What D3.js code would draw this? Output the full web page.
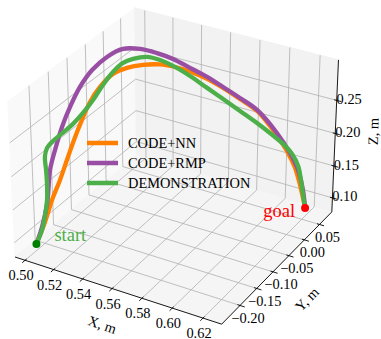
<!DOCTYPE html>
<html>
<head>
<meta charset="utf-8">
<script src="https://cdn.jsdelivr.net/npm/d3@7"></script>
<style>
  body { margin: 0; background: #fff; }
  svg { display: block; }
  text { font-family: "Liberation Serif", "DejaVu Serif", "Times New Roman", serif; fill: #000; }
</style>
</head>
<body>
<div id="app"></div>
<script>
// ---- data (metres) ----
const xTicks = [0.50, 0.52, 0.54, 0.56, 0.58, 0.60, 0.62];
const yTicks = [-0.20, -0.15, -0.10, -0.05, 0.00, 0.05];
const zTicks = [0.10, 0.15, 0.20, 0.25];

const startPt = [0.502, -0.230, 0.093];
const goalPt = [0.620, 0.060, 0.091];

const nnPath = [
  [0.5020, -0.2300, 0.0930], [0.5028, -0.2084, 0.1169], [0.5034, -0.1904, 0.1426],
  [0.5041, -0.1703, 0.1643], [0.5047, -0.1526, 0.1871], [0.5053, -0.1345, 0.2098],
  [0.5060, -0.1144, 0.2316], [0.5067, -0.0942, 0.2504], [0.5076, -0.0695, 0.2630],
  [0.5087, -0.0371, 0.2699], [0.5099, -0.0023, 0.2655], [0.5194, 0.0051, 0.2725],
  [0.5299, 0.0108, 0.2770], [0.5403, 0.0164, 0.2762], [0.5483, 0.0207, 0.2732],
  [0.5587, 0.0263, 0.2658], [0.5685, 0.0316, 0.2558], [0.5788, 0.0372, 0.2431],
  [0.5893, 0.0429, 0.2289], [0.5973, 0.0472, 0.2092], [0.6035, 0.0506, 0.1903],
  [0.6086, 0.0533, 0.1724], [0.6132, 0.0558, 0.1510], [0.6165, 0.0576, 0.1259],
  [0.6186, 0.0587, 0.1064], [0.6200, 0.0600, 0.0910]
];

const rmpPath = [
  [0.5020, -0.2300, 0.0930], [0.5025, -0.2157, 0.1126], [0.5030, -0.2016, 0.1432],
  [0.5033, -0.1924, 0.1891], [0.5038, -0.1795, 0.2137], [0.5044, -0.1617, 0.2405],
  [0.5051, -0.1417, 0.2620], [0.5059, -0.1171, 0.2817], [0.5070, -0.0876, 0.2952],
  [0.5082, -0.0510, 0.3005], [0.5096, -0.0115, 0.2975], [0.5177, 0.0041, 0.2958],
  [0.5281, 0.0098, 0.2933], [0.5379, 0.0151, 0.2881], [0.5483, 0.0207, 0.2786],
  [0.5587, 0.0263, 0.2689], [0.5685, 0.0316, 0.2573], [0.5788, 0.0372, 0.2446],
  [0.5893, 0.0429, 0.2304], [0.6016, 0.0495, 0.2002], [0.6098, 0.0540, 0.1728],
  [0.6150, 0.0568, 0.1487], [0.6184, 0.0586, 0.1189], [0.6200, 0.0600, 0.0910]
];

const demoPath = [
  [0.5020, -0.2300, 0.0930], [0.5025, -0.2159, 0.1080], [0.5028, -0.2076, 0.1274],
  [0.5030, -0.2019, 0.1478], [0.5030, -0.2005, 0.1700], [0.5030, -0.2016, 0.1931],
  [0.5029, -0.2030, 0.2131], [0.5031, -0.1974, 0.2241], [0.5035, -0.1857, 0.2282],
  [0.5042, -0.1666, 0.2306], [0.5052, -0.1383, 0.2339], [0.5061, -0.1116, 0.2409],
  [0.5070, -0.0870, 0.2505], [0.5078, -0.0621, 0.2631], [0.5087, -0.0370, 0.2727],
  [0.5096, -0.0120, 0.2767], [0.5133, 0.0018, 0.2793], [0.5219, 0.0064, 0.2855],
  [0.5299, 0.0108, 0.2837], [0.5391, 0.0157, 0.2766], [0.5483, 0.0207, 0.2664],
  [0.5588, 0.0264, 0.2523], [0.5686, 0.0317, 0.2393], [0.5790, 0.0373, 0.2250],
  [0.5894, 0.0429, 0.2107], [0.5974, 0.0472, 0.1986], [0.6055, 0.0516, 0.1850],
  [0.6111, 0.0546, 0.1718], [0.6150, 0.0568, 0.1548], [0.6170, 0.0578, 0.1339],
  [0.6185, 0.0586, 0.1127], [0.6200, 0.0600, 0.0910]
];

const seriesNames = ['CODE+NN', 'CODE+RMP', 'DEMONSTRATION'];
const seriesColors = ['#ff7f00', '#984ea3', '#4daf4a'];
const seriesPaths = [nnPath, rmpPath, demoPath];

// ---- layout ----
const W = 381, H = 339;
const xLim = [0.4929, 0.6320], yLim = [-0.2535, 0.0917], zLim = [0.0778, 0.3100];
const fontStack = '"Liberation Serif", "DejaVu Serif", "Times New Roman", serif';

// box aspect like matplotlib (4,4,3)
const box = [4, 4, 3].map(v => v * 1.8294640721620434 / Math.sqrt(41));
const xs = d3.scaleLinear().domain(xLim).range([0, box[0]]);
const ys = d3.scaleLinear().domain(yLim).range([0, box[1]]);
const zs = d3.scaleLinear().domain(zLim).range([0, box[2]]);

// camera: elev 30, azim -60, perspective
const elev = 30 * Math.PI / 180, azim = -60 * Math.PI / 180, dist = 10;
const wv = [Math.cos(elev) * Math.cos(azim), Math.cos(elev) * Math.sin(azim), Math.sin(elev)];
const cross = (a, b) => [a[1] * b[2] - a[2] * b[1], a[2] * b[0] - a[0] * b[2], a[0] * b[1] - a[1] * b[0]];
const dot = (a, b) => a[0] * b[0] + a[1] * b[1] + a[2] * b[2];
let uv = cross([0, 0, 1], wv);
const un = Math.hypot(...uv);
uv = uv.map(d => d / un);
const vv = cross(wv, uv);
const R = box.map(b => b / 2);

// projected view -> pixels
const px = d3.scaleLinear().domain([-0.095, 0.09]).range([-20.6, 362.7]);
const py = d3.scaleLinear().domain([-0.095, 0.09]).range([355.6, -27.7]);

function project(p) {
  const d = [xs(p[0]) - R[0], ys(p[1]) - R[1], zs(p[2]) - R[2]];
  const a = dot(uv, d), b = dot(vv, d), c = dot(wv, d) - dist;
  return [px(a / -c), py(b / -c)];
}

const svg = d3.select('#app')
  .append('svg')
  .attr('width', W)
  .attr('height', H);

// panes
const [x0, x1] = xLim, [y0, y1] = yLim, [z0, z1] = zLim;
const panes = [
  { fill: '#f9f9f9', pts: [[x0, y0, z0], [x0, y1, z0], [x0, y1, z1], [x0, y0, z1]] },
  { fill: '#f2f2f2', pts: [[x0, y1, z0], [x1, y1, z0], [x1, y1, z1], [x0, y1, z1]] },
  { fill: '#f5f5f5', pts: [[x0, y0, z0], [x1, y0, z0], [x1, y1, z0], [x0, y1, z0]] }
];
svg.append('g')
  .selectAll('polygon')
  .data(panes)
  .enter()
  .append('polygon')
  .attr('points', d => d.pts.map(project).map(p => p.join(',')).join(' '))
  .attr('fill', d => d.fill)
  .attr('stroke', d => d.fill)
  .attr('stroke-width', 1);

// grid
const line2d = d3.line();
const gridLines = [
  ...xTicks.map(x => [[x, y0, z0], [x, y1, z0], [x, y1, z1]]),
  ...yTicks.map(y => [[x1, y, z0], [x0, y, z0], [x0, y, z1]]),
  ...zTicks.map(z => [[x0, y0, z], [x0, y1, z], [x1, y1, z]])
];
svg.append('g')
  .selectAll('path')
  .data(gridLines)
  .enter()
  .append('path')
  .attr('d', d => line2d(d.map(project)))
  .attr('fill', 'none')
  .attr('stroke', '#b0b0b0')
  .attr('stroke-width', 0.8);

// axis lines
const axisLines = [
  [[x0, y0, z0], [x1, y0, z0]],
  [[x1, y0, z0], [x1, y1, z0]],
  [[x1, y1, z0], [x1, y1, z1]]
];
svg.append('g')
  .selectAll('path')
  .data(axisLines)
  .enter()
  .append('path')
  .attr('d', d => line2d(d.map(project)))
  .attr('stroke', '#000')
  .attr('stroke-width', 0.9);

// tick marks
const xR = x1 - x0, yR = y1 - y0;
const tickIn = 0.012, tickOut = 0.022;
const tickMarks = [
  ...xTicks.map(x => [[x, y0 + tickIn * yR, z0], [x, y0 - tickOut * yR, z0]]),
  ...yTicks.map(y => [[x1 - tickIn * xR, y, z0], [x1 + tickOut * xR, y, z0]]),
  ...zTicks.map(z => [[x1 - tickIn * xR, y1, z], [x1 + tickOut * xR, y1, z]])
];
svg.append('g')
  .selectAll('path')
  .data(tickMarks)
  .enter()
  .append('path')
  .attr('d', d => line2d(d.map(project)))
  .attr('stroke', '#000')
  .attr('stroke-width', 0.9);

// tick labels
const fmt = d3.format('.2f');
const tickLabels = [
  ...xTicks.map(x => ({ p: [x, y0, z0], t: fmt(x), off: [-4, 15] })),
  ...yTicks.map(y => ({ p: [x1, y, z0], t: fmt(y), off: [8, 12.5] })),
  ...zTicks.map(z => ({ p: [x1, y1, z], t: fmt(z), off: [12.5, -1.5] }))
];
svg.append('g')
  .selectAll('text')
  .data(tickLabels)
  .enter()
  .append('text')
  .attr('x', d => project(d.p)[0] + d.off[0])
  .attr('y', d => project(d.p)[1] + d.off[1])
  .attr('dy', '0.35em')
  .attr('text-anchor', 'middle')
  .style('font-family', fontStack)
  .style('font-size', '14.4px')
  .text(d => d.t);

// axis titles
const axisTitles = [
  { a: [x0, y0, z0], b: [x1, y0, z0], off: [-16, 34], rot: 18.6, t: 'X, m' },
  { a: [x1, y0, z0], b: [x1, y1, z0], off: [30, 31], rot: -45.5, t: 'Y, m' },
  { a: [x1, y1, z0], b: [x1, y1, z1], off: [38, -4.5], rot: -88, t: 'Z, m' }
];
svg.append('g')
  .selectAll('text')
  .data(axisTitles)
  .enter()
  .append('text')
  .attr('transform', d => {
    const pa = project(d.a), pb = project(d.b);
    const cx = (pa[0] + pb[0]) / 2 + d.off[0], cy = (pa[1] + pb[1]) / 2 + d.off[1];
    return `translate(${cx},${cy}) rotate(${d.rot})`;
  })
  .attr('dy', '0.35em')
  .attr('text-anchor', 'middle')
  .style('font-family', fontStack)
  .style('font-size', '14.4px')
  .text(d => d.t);

// trajectories
const curve = d3.line().curve(d3.curveCatmullRom.alpha(0.5));
svg.append('g')
  .selectAll('path')
  .data(seriesPaths)
  .enter()
  .append('path')
  .attr('d', d => curve(d.map(project)))
  .attr('fill', 'none')
  .attr('stroke', (d, i) => seriesColors[i])
  .attr('stroke-width', 4.3)
  .attr('stroke-linejoin', 'round');

// start / goal
const ps = project(startPt), pg = project(goalPt);
svg.append('circle').attr('cx', ps[0]).attr('cy', ps[1]).attr('r', 4).attr('fill', '#008000');
svg.append('circle').attr('cx', pg[0]).attr('cy', pg[1]).attr('r', 4).attr('fill', '#ff0000');
svg.append('text')
  .attr('x', ps[0] + 18).attr('y', ps[1] - 3)
  .style('font-family', fontStack)
  .style('font-size', '18.5px').style('fill', '#4daf4a')
  .text('start');
svg.append('text')
  .attr('x', pg[0] - 10).attr('y', pg[1] + 9)
  .attr('text-anchor', 'end')
  .style('font-family', fontStack)
  .style('font-size', '18.5px').style('fill', '#ff0000')
  .text('goal');

// legend
const legend = svg.append('g').attr('transform', 'translate(87,143)');
seriesNames.forEach((name, i) => {
  legend.append('line')
    .attr('x1', 0).attr('x2', 31)
    .attr('y1', i * 20).attr('y2', i * 20)
    .attr('stroke', seriesColors[i])
    .attr('stroke-width', 4.5);
  legend.append('text')
    .attr('x', 41).attr('y', i * 20)
    .attr('dy', '0.35em')
    .style('font-family', fontStack)
    .style('font-size', '14.4px')
    .text(name);
});
</script>
</body>
</html>
